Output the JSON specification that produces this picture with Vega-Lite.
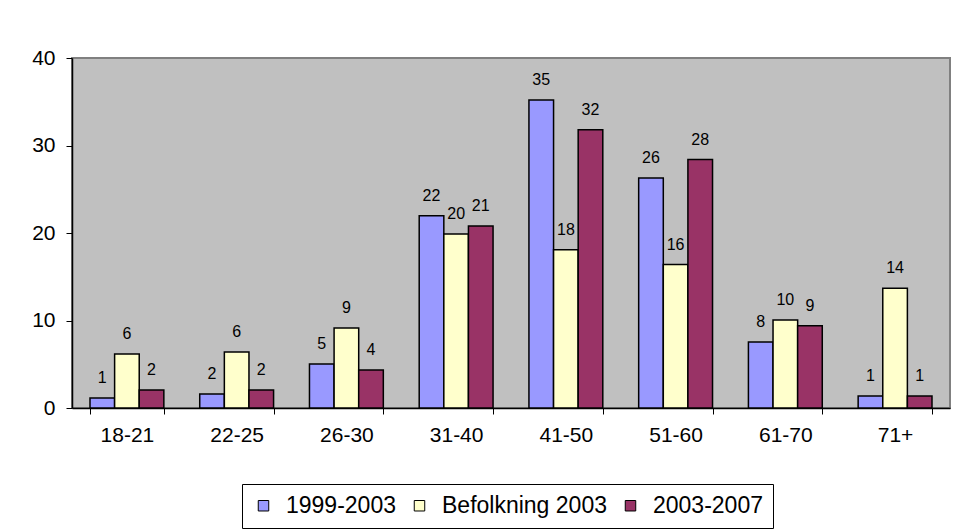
{
  "$schema": "https://vega.github.io/schema/vega-lite/v6.json",
  "width": 878,
  "height": 350,
  "autosize": "none",
  "padding": {"left": 72, "top": 58, "right": 3, "bottom": 123},
  "background": "white",
  "data": {
    "values": [
      {"age": "18-21", "series": "1999-2003", "value": 1.14},
      {"age": "18-21", "series": "Befolkning 2003", "value": 6.18},
      {"age": "18-21", "series": "2003-2007", "value": 2.06},
      {"age": "22-25", "series": "1999-2003", "value": 1.6},
      {"age": "22-25", "series": "Befolkning 2003", "value": 6.4},
      {"age": "22-25", "series": "2003-2007", "value": 2.06},
      {"age": "26-30", "series": "1999-2003", "value": 5.03},
      {"age": "26-30", "series": "Befolkning 2003", "value": 9.15},
      {"age": "26-30", "series": "2003-2007", "value": 4.35},
      {"age": "31-40", "series": "1999-2003", "value": 21.97},
      {"age": "31-40", "series": "Befolkning 2003", "value": 19.9},
      {"age": "31-40", "series": "2003-2007", "value": 20.8},
      {"age": "41-50", "series": "1999-2003", "value": 35.2},
      {"age": "41-50", "series": "Befolkning 2003", "value": 18.08},
      {"age": "41-50", "series": "2003-2007", "value": 31.8},
      {"age": "51-60", "series": "1999-2003", "value": 26.3},
      {"age": "51-60", "series": "Befolkning 2003", "value": 16.4},
      {"age": "51-60", "series": "2003-2007", "value": 28.4},
      {"age": "61-70", "series": "1999-2003", "value": 7.55},
      {"age": "61-70", "series": "Befolkning 2003", "value": 10.07},
      {"age": "61-70", "series": "2003-2007", "value": 9.4},
      {"age": "71+", "series": "1999-2003", "value": 1.37},
      {"age": "71+", "series": "Befolkning 2003", "value": 13.7},
      {"age": "71+", "series": "2003-2007", "value": 1.37}
    ]
  },
  "encoding": {
    "x": {
      "field": "age",
      "type": "nominal",
      "sort": ["18-21", "22-25", "26-30", "31-40", "41-50", "51-60", "61-70", "71+"],
      "scale": {"paddingInner": 0.327, "paddingOuter": 0.164},
      "axis": {
        "title": null,
        "labelAngle": 0,
        "tickBand": "extent",
        "tickSize": 6,
        "tickColor": "black",
        "domainColor": "black",
        "domainWidth": 1.5,
        "labelPadding": 10,
        "labelFontSize": 21,
        "labelColor": "black",
        "labelFont": "Liberation Sans"
      }
    },
    "xOffset": {
      "field": "series",
      "type": "nominal",
      "sort": ["1999-2003", "Befolkning 2003", "2003-2007"],
      "scale": {"paddingInner": 0, "paddingOuter": 0}
    },
    "y": {
      "field": "value",
      "type": "quantitative",
      "scale": {"domain": [0, 40], "nice": false},
      "axis": {
        "title": null,
        "values": [0, 10, 20, 30, 40],
        "grid": false,
        "tickSize": 6,
        "tickColor": "black",
        "domainColor": "black",
        "domainWidth": 1.5,
        "labelPadding": 11,
        "labelFontSize": 21,
        "labelColor": "black",
        "labelFont": "Liberation Sans"
      }
    }
  },
  "layer": [
    {
      "mark": {"type": "bar", "stroke": "black", "strokeWidth": 1.5},
      "encoding": {
        "color": {
          "field": "series",
          "type": "nominal",
          "sort": ["1999-2003", "Befolkning 2003", "2003-2007"],
          "scale": {
            "domain": ["1999-2003", "Befolkning 2003", "2003-2007"],
            "range": ["#9999FF", "#FFFFCC", "#993366"]
          },
          "legend": {
            "title": null,
            "orient": "none",
            "legendX": 170,
            "legendY": 426,
            "direction": "horizontal",
            "columns": 3,
            "strokeColor": "black",
            "fillColor": "white",
            "padding": 10,
            "symbolType": "square",
            "symbolSize": 110,
            "symbolStrokeColor": "black",
            "symbolStrokeWidth": 1,
            "symbolOpacity": 1,
            "labelFontSize": 23,
            "labelLimit": 400,
            "labelFont": "Liberation Sans",
            "labelColor": "black",
            "labelOffset": 11,
            "columnPadding": 12
          }
        }
      }
    },
    {
      "mark": {
        "type": "text",
        "baseline": "middle",
        "dy": -20,
        "fontSize": 16,
        "font": "Liberation Sans",
        "color": "black"
      },
      "encoding": {
        "text": {"field": "value", "type": "quantitative", "format": ".0f"}
      }
    }
  ],
  "config": {
    "view": {"fill": "#C0C0C0", "stroke": "#808080", "strokeWidth": 2}
  }
}
